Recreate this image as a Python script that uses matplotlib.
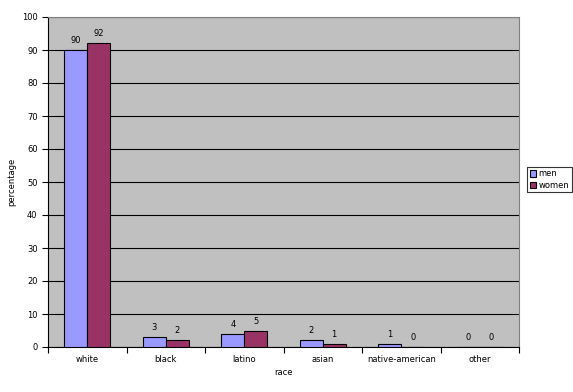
import numpy as np
import matplotlib.pyplot as plt

categories = ['white', 'black', 'latino', 'asian', 'native-american', 'other']
men = [90, 3, 4, 2, 1, 0]
women = [92, 2, 5, 1, 0, 0]
yticks = list(range(0, 101, 10))

fig = plt.figure(figsize=(5.73, 3.92), dpi=100)
ax = fig.add_axes([48/573, 1-347/392, 471/573, 330/392])
ax.set_facecolor('#C0C0C0')

x = np.arange(len(categories))
w = 0.29
ax.bar(x - w/2, men, w, color='#9999FF', edgecolor='black', linewidth=0.8, label='men', zorder=3)
ax.bar(x + w/2, women, w, color='#993366', edgecolor='black', linewidth=0.8, label='women', zorder=3)

for xi, m, f in zip(x, men, women):
    ax.text(xi - w/2, m + 1.5, str(m), ha='center', va='bottom', fontsize=6)
    ax.text(xi + w/2, f + 1.5, str(f), ha='center', va='bottom', fontsize=6)

ax.set_xlim(-0.5, len(categories) - 0.5)
ax.set_ylim(0, 100)
ax.set_yticks(yticks)
ax.set_yticklabels([str(t) for t in yticks], fontsize=6)
ax.yaxis.grid(True, color='black', linewidth=0.8, zorder=0)
ax.set_axisbelow(True)

ax.set_xticks(np.arange(len(categories) + 1) - 0.5)
ax.set_xticklabels([])
ax.set_xticks(x, minor=True)
ax.set_xticklabels(categories, minor=True, fontsize=6)
ax.tick_params(axis='x', which='minor', length=0, pad=6)
ax.tick_params(axis='x', which='major', length=4, direction='out')
ax.tick_params(axis='y', length=4, direction='out')

for s in ['top', 'right']:
    ax.spines[s].set_color('#808080')
    ax.spines[s].set_linewidth(0.8)

ax.set_xlabel('race', fontsize=6)
ax.xaxis.set_label_coords(0.5, -0.065)
ax.set_ylabel('percentage', fontsize=6)

leg = fig.legend(loc='upper left', bbox_to_anchor=(527/573, 1-167/392), fontsize=6,
                 frameon=True, fancybox=False, edgecolor='black', handlelength=0.8,
                 handleheight=0.8, handletextpad=0.3, borderpad=0.3, labelspacing=0.3,
                 borderaxespad=0)
leg.get_frame().set_linewidth(0.8)

fig.savefig('out.png', dpi=100)
